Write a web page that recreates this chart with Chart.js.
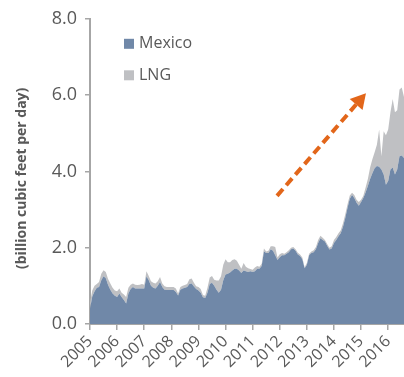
<!DOCTYPE html>
<html>
<head>
<meta charset="utf-8">
<script src="https://cdn.jsdelivr.net/npm/chart.js@4/dist/chart.umd.min.js"></script>
<style>
  html, body { margin: 0; padding: 0; background: #ffffff; }
  #wrap { width: 404px; height: 377px; }
</style>
</head>
<body>
<div id="wrap"><canvas id="chart" width="404" height="377"></canvas></div>
<script>
// Monthly U.S. natural gas exports, Jan 2005 onward (billion cubic feet per day)
const firstYear = 2005;
const yearLabels = ['2005','2006','2007','2008','2009','2010','2011','2012','2013','2014','2015','2016'];
const yTickValues = [0, 2, 4, 6, 8];
const yAxisTitle = '(billion cubic feet per day)';

const mexico = [
  0.40, 0.72, 0.85, 0.95, 0.97, 1.15, 1.25, 1.20, 1.02, 0.90, 0.80, 0.74,
  0.71, 0.80, 0.71, 0.63, 0.54, 0.80, 0.92, 0.97, 0.93, 0.93, 0.93, 0.93,
  0.93, 1.25, 1.15, 1.00, 0.95, 0.93, 1.00, 1.10, 0.97, 0.90, 0.89, 0.89,
  0.89, 0.89, 0.84, 0.75, 0.90, 0.93, 0.95, 0.97, 1.05, 1.06, 0.98, 0.92,
  0.88, 0.82, 0.70, 0.68, 0.82, 1.05, 1.08, 1.00, 0.90, 0.82, 0.90, 1.15,
  1.30, 1.32, 1.35, 1.40, 1.45, 1.45, 1.40, 1.34, 1.40, 1.38, 1.36, 1.38,
  1.36, 1.38, 1.45, 1.45, 1.52, 1.90, 1.86, 1.86, 1.96, 1.92, 1.80, 1.68,
  1.75, 1.80, 1.80, 1.84, 1.88, 1.96, 1.98, 1.92, 1.82, 1.78, 1.70, 1.46,
  1.55, 1.80, 1.86, 1.88, 1.96, 2.12, 2.25, 2.20, 2.16, 2.05, 1.95, 1.98,
  2.12, 2.20, 2.30, 2.38, 2.55, 2.78, 3.05, 3.28, 3.38, 3.30, 3.18, 3.10,
  3.20, 3.30, 3.45, 3.62, 3.80, 3.95, 4.08, 4.14, 4.12, 4.05, 3.92, 3.65,
  3.75, 4.05, 4.10, 3.92, 4.05, 4.40, 4.42, 4.35
];

const lng = [
  0.15, 0.16, 0.15, 0.10, 0.13, 0.17, 0.16, 0.16, 0.16, 0.16, 0.15, 0.14,
  0.15, 0.13, 0.11, 0.14, 0.17, 0.15, 0.11, 0.09, 0.10, 0.09, 0.10, 0.12,
  0.10, 0.13, 0.11, 0.12, 0.13, 0.13, 0.12, 0.13, 0.09, 0.09, 0.08, 0.08,
  0.08, 0.08, 0.09, 0.05, 0.07, 0.07, 0.07, 0.08, 0.12, 0.13, 0.10, 0.07,
  0.09, 0.10, 0.06, 0.06, 0.13, 0.17, 0.18, 0.16, 0.24, 0.32, 0.35, 0.40,
  0.40, 0.30, 0.27, 0.28, 0.25, 0.21, 0.15, 0.11, 0.20, 0.12, 0.10, 0.06,
  0.06, 0.10, 0.07, 0.05, 0.06, 0.08, 0.04, 0.06, 0.08, 0.12, 0.22, 0.06,
  0.08, 0.06, 0.04, 0.04, 0.05, 0.04, 0.04, 0.04, 0.05, 0.04, 0.04, 0.03,
  0.05, 0.04, 0.04, 0.05, 0.06, 0.08, 0.06, 0.06, 0.04, 0.05, 0.05, 0.06,
  0.08, 0.08, 0.08, 0.08, 0.09, 0.10, 0.09, 0.09, 0.06, 0.08, 0.08, 0.10,
  0.06, 0.06, 0.13, 0.18, 0.30, 0.37, 0.42, 0.56, 0.98, 0.35, 1.13, 1.30,
  1.35, 1.50, 1.80, 1.63, 1.55, 1.75, 1.78, 1.60
];

// Trend arrow, in data units (year, bcf/d)
const trendFrom = { x: 2011.90, y: 3.36 };
const trendTo   = { x: 2015.18, y: 6.05 };

const colors = {
  mexico: '#7088a8',
  lng: '#bfc0c3',
  axis: '#a6a6a6',
  text: '#595959',
  arrow: '#e2661a'
};

const toPoints = arr => arr.map((v, i) => ({ x: firstYear + i / 12, y: v }));
const lastX = firstYear + (mexico.length - 1) / 12;

Chart.defaults.font.family = "'Open Sans', sans-serif";
Chart.defaults.color = colors.text;

const overlay = {
  id: 'overlay',
  afterDraw(chart) {
    const { ctx, chartArea, scales } = chart;
    // dashed trend arrow
    const x0 = scales.x.getPixelForValue(trendFrom.x), y0 = scales.y.getPixelForValue(trendFrom.y);
    const x1 = scales.x.getPixelForValue(trendTo.x),   y1 = scales.y.getPixelForValue(trendTo.y);
    const ang = Math.atan2(y1 - y0, x1 - x0);
    const headLen = 15, headHalf = 8.5;
    const bx = x1 - headLen * Math.cos(ang), by = y1 - headLen * Math.sin(ang);
    ctx.save();
    ctx.strokeStyle = colors.arrow;
    ctx.fillStyle = colors.arrow;
    ctx.lineWidth = 4;
    ctx.setLineDash([9, 5]);
    ctx.beginPath();
    ctx.moveTo(x0, y0);
    ctx.lineTo(bx, by);
    ctx.stroke();
    ctx.setLineDash([]);
    ctx.beginPath();
    ctx.moveTo(x1, y1);
    ctx.lineTo(bx + headHalf * Math.sin(ang), by - headHalf * Math.cos(ang));
    ctx.lineTo(bx - headHalf * Math.sin(ang), by + headHalf * Math.cos(ang));
    ctx.closePath();
    ctx.fill();
    ctx.restore();

    // legend inside the plot area
    ctx.save();
    ctx.font = "16px 'Open Sans', sans-serif";
    ctx.textBaseline = 'middle';
    const lx = chartArea.left + 34, ly = chartArea.top + 25;
    chart.data.datasets.forEach((ds, i) => {
      const cy = ly + i * 31.5;
      ctx.fillStyle = ds.backgroundColor;
      ctx.fillRect(lx, cy - 5, 10, 10);
      ctx.fillStyle = colors.text;
      ctx.fillText(ds.label, lx + 15, cy);
    });
    ctx.restore();

    // vertical axis title
    ctx.save();
    ctx.font = "bold 14px 'Open Sans', sans-serif";
    ctx.fillStyle = colors.text;
    ctx.textAlign = 'center';
    ctx.textBaseline = 'middle';
    ctx.translate(22, chartArea.top + (chartArea.bottom - chartArea.top) / 2 + 7);
    ctx.rotate(-Math.PI / 2);
    ctx.fillText(yAxisTitle, 0, 0);
    ctx.restore();
  }
};

new Chart(document.getElementById('chart'), {
  type: 'line',
  data: {
    datasets: [
      { label: 'Mexico', data: toPoints(mexico), backgroundColor: colors.mexico,
        borderWidth: 0, pointRadius: 0, fill: 'origin', tension: 0 },
      { label: 'LNG', data: toPoints(lng), backgroundColor: colors.lng,
        borderWidth: 0, pointRadius: 0, fill: '-1', tension: 0 }
    ]
  },
  options: {
    responsive: false,
    animation: false,
    events: [],
    layout: { padding: { top: 17, left: 0, right: 0, bottom: 0 } },
    plugins: { legend: { display: false }, tooltip: { enabled: false } },
    scales: {
      x: {
        type: 'linear',
        min: firstYear,
        max: lastX,
        afterFit: s => { s.height = 53; },
        grid: { drawOnChartArea: false, drawTicks: true, tickLength: 6, color: colors.axis, lineWidth: 1.5 },
        border: { color: colors.axis, width: 2 },
        ticks: {
          stepSize: 1,
          includeBounds: false,
          autoSkip: false,
          minRotation: 45,
          maxRotation: 45,
          padding: 2,
          font: { size: 16 },
          color: colors.text,
          callback: v => yearLabels[v - firstYear] ?? ''
        }
      },
      y: {
        stacked: true,
        min: 0,
        max: 8,
        afterFit: s => { s.width = 90; },
        afterBuildTicks: s => { s.ticks = yTickValues.map(v => ({ value: v })); },
        grid: { drawOnChartArea: false, drawTicks: true, tickLength: 5, color: colors.axis, lineWidth: 1.5 },
        border: { color: colors.axis, width: 2 },
        ticks: {
          padding: 8,
          font: { size: 18 },
          color: colors.text,
          callback: v => v.toFixed(1)
        }
      }
    }
  },
  plugins: [overlay]
});
</script>
</body>
</html>
